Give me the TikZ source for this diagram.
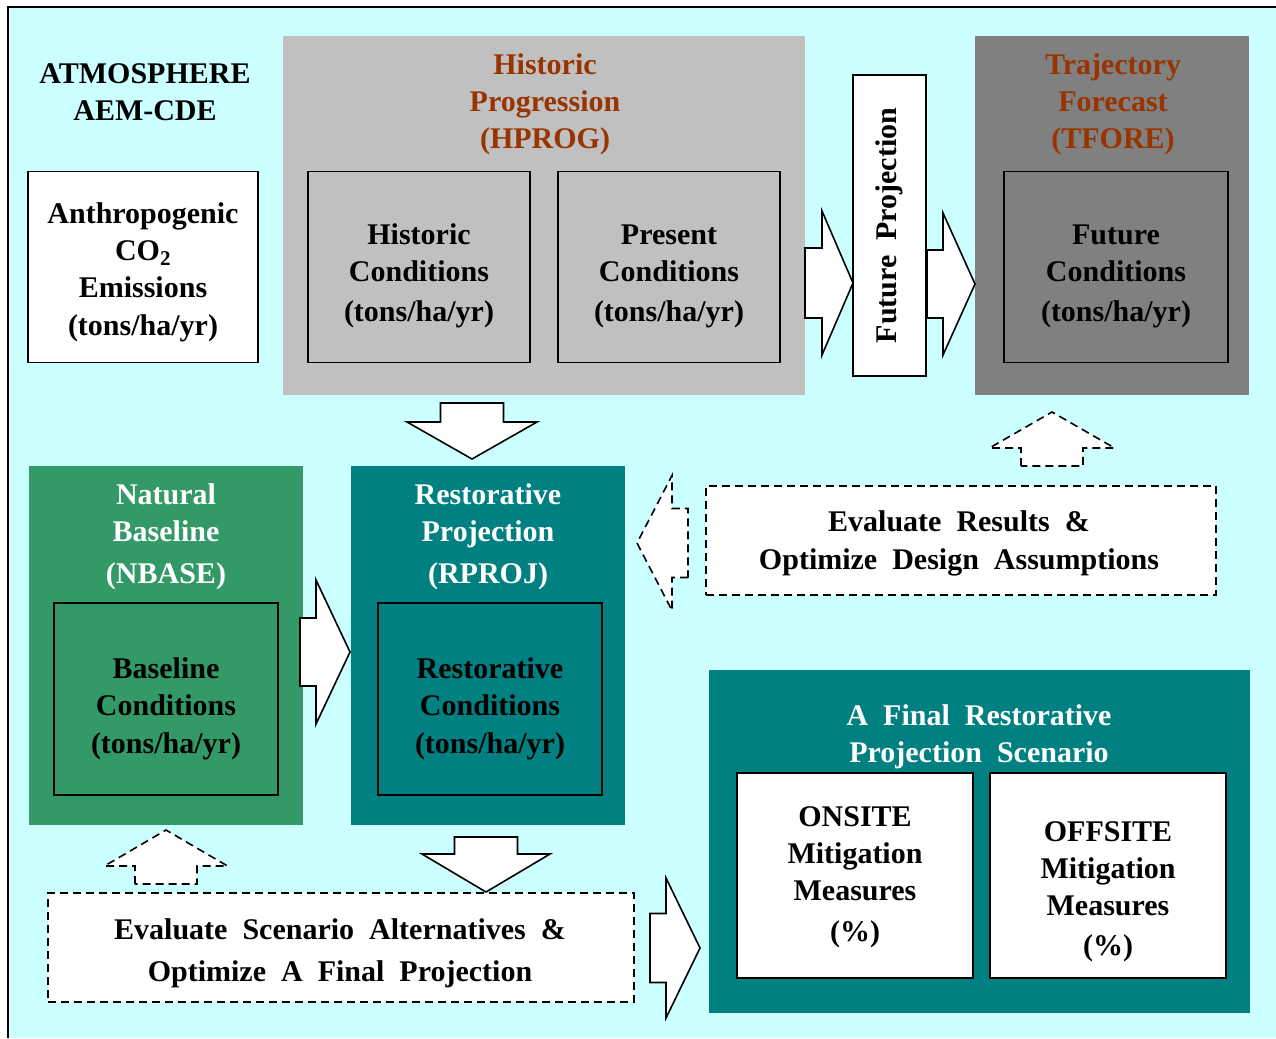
\documentclass[tikz,border=0pt]{standalone}
\usepackage{fontspec}
\setmainfont[WordSpace=2]{Liberation Serif}
\definecolor{skybg}{RGB}{204,255,255}
\definecolor{lgray}{RGB}{192,192,192}
\definecolor{dgray}{RGB}{128,128,128}
\definecolor{seagreen}{RGB}{51,153,102}
\definecolor{tealbox}{RGB}{0,128,128}
\definecolor{rust}{RGB}{153,51,0}

\tikzset{
  txt/.style={font=\bfseries\fontsize{30}{37}\selectfont, align=center, inner sep=0pt},
  group/.style={anchor=north west, inner sep=0pt},
  inbox/.style={draw, line width=1.6pt, inner sep=0pt},
  dbox/.style={draw, fill=white, line width=1.6pt, dash pattern=on 8pt off 5pt, txt},
  blockarr/.style={draw, fill=white, line width=1.6pt},
  dblockarr/.style={blockarr, dash pattern=on 8pt off 5pt},
  pics/barrow/.style args={#1/#2/#3/#4}{code={
    \draw[pic actions] (0,-#2) -- (#1,-#2) -- (#1,-#4) -- (#1+#3,0)
      -- (#1,#4) -- (#1,#2) -- (0,#2) -- cycle;
  }}
}

\begin{document}
\begin{tikzpicture}[x=1pt,y=-1pt]
  \useasboundingbox (0,0) rectangle (1276,1038);
  \fill[skybg] (8,7) rectangle (1276,1038);
  \draw[line width=2pt] (1276,7) -- (8,7) -- (8,1038);

  % atmosphere column
  \node[txt] (atm) at (145,92) {ATMOSPHERE\\AEM-CDE};
  \node[inbox, fill=white, minimum width=230, minimum height=191,
        label={[txt, yshift=-5pt]center:{Anthropogenic\\CO\textsubscript{2}\\Emissions\\[1pt](tons/ha/yr)}}]
        (anthro) at (143,267) {};

  % historic progression
  \node[group, fill=lgray, minimum width=522, minimum height=359] (hprog) at (283,36) {};
  \node[txt, text=rust] (hprogt) at (545,104.5) {Historic\\Progression\\(HPROG)};
  \node[inbox, fill=lgray, minimum width=222, minimum height=191,
        label={[txt, yshift=-9pt]center:{Historic\\Conditions\\[3pt](tons/ha/yr)}}]
        (histc) at (419,267) {};
  \node[inbox, fill=lgray, minimum width=222, minimum height=191,
        label={[txt, yshift=-9pt]center:{Present\\Conditions\\[3pt](tons/ha/yr)}}]
        (presc) at (669,267) {};

  % future projection
  \node[draw, line width=1.6pt, fill=white, txt, rotate=90, minimum width=301, minimum height=73]
        (futproj) at (889.5,225.5) {Future Projection};

  % trajectory forecast
  \node[group, fill=dgray, minimum width=274, minimum height=359] (tfore) at (975,36) {};
  \node[txt, text=rust] (tforet) at (1113,104.5) {Trajectory\\Forecast\\(TFORE)};
  \node[inbox, fill=dgray, minimum width=224, minimum height=191,
        label={[txt, yshift=-9pt]center:{Future\\Conditions\\[3pt](tons/ha/yr)}}]
        (futc) at (1116,267) {};

  % natural baseline
  \node[group, fill=seagreen, minimum width=274, minimum height=359] (nbase) at (29,466) {};
  \node[txt, text=white] (nbaset) at (166,537) {Natural\\Baseline\\[5pt](NBASE)};
  \node[inbox, fill=seagreen, minimum width=224, minimum height=192,
        label={[txt, yshift=-10pt]center:{Baseline\\Conditions\\[1pt](tons/ha/yr)}}]
        (basec) at (166,699) {};

  % restorative projection
  \node[group, fill=tealbox, minimum width=274, minimum height=359] (rproj) at (351,466) {};
  \node[txt, text=white] (rprojt) at (488,537) {Restorative\\Projection\\[5pt](RPROJ)};
  \node[inbox, fill=tealbox, minimum width=224, minimum height=192,
        label={[txt, yshift=-10pt]center:{Restorative\\Conditions\\[1pt](tons/ha/yr)}}]
        (restc) at (490,699) {};

  % evaluation boxes
  \node[dbox, minimum width=510, minimum height=109] (evalres) at (961,540.5) {};
  \node[txt] (evalrest) at (959,543) {Evaluate Results \&\\[1pt]Optimize Design Assumptions};
  \node[dbox, minimum width=586, minimum height=109] (evalsc) at (341,947.5) {};
  \node[txt] (evalsct) at (340,953) {Evaluate Scenario Alternatives \&\\[5pt]Optimize A Final Projection};

  % final scenario
  \node[group, fill=tealbox, minimum width=541, minimum height=343] (final) at (709,670) {};
  \node[txt, text=white] (finalt) at (979,737) {A Final Restorative\\Projection Scenario};
  \node[inbox, fill=white, minimum width=236, minimum height=205,
        label={[txt, yshift=-2pt]center:{ONSITE\\Mitigation\\Measures\\[4pt](\%)}}]
        (onsite) at (855,875.5) {};
  \node[inbox, fill=white, minimum width=236, minimum height=205,
        label={[txt, yshift=-16pt]center:{OFFSITE\\Mitigation\\Measures\\[3pt](\%)}}]
        (offsite) at (1108,875.5) {};

  % block arrows
  \pic[blockarr] at (805,283) {barrow={17/35/31/72}};
  \pic[blockarr] at (927,284) {barrow={16/34/32/71}};
  \pic[blockarr, rotate=-90] at (472,403) {barrow={19/31.5/37/65}};
  \pic[blockarr] at (300,652) {barrow={16/34/34/72}};
  \pic[blockarr, rotate=-90] at (486,837) {barrow={17/31.5/38/64}};
  \pic[blockarr] at (650,948) {barrow={16/34.5/34/70}};
  \pic[dblockarr, rotate=180] at (688,543) {barrow={16/34.5/35/67.5}};
  \pic[dblockarr, rotate=90] at (166,884) {barrow={18/31/36/61.5}};
  \pic[dblockarr, rotate=90] at (1052,466) {barrow={18/31/36/62.5}};
\end{tikzpicture}
\end{document}
